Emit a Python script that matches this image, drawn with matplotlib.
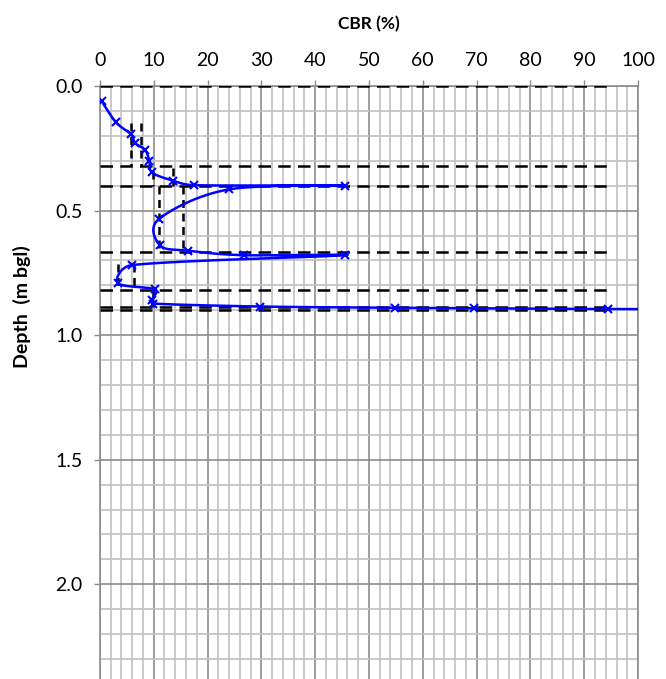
import numpy as np
import matplotlib.pyplot as plt
from matplotlib.ticker import MultipleLocator, FormatStrFormatter

plt.rcParams['font.family'] = ['Lato', 'DejaVu Sans']

# DCP readings, in test order (CBR %, depth m bgl)
cbr = [0.3, 3.0, 5.8, 6.5, 8.4, 9.2, 9.7, 13.6, 17.5, 45.6, 23.9, 10.9, 11.2,
       16.4, 26.7, 45.6, 5.9, 3.4, 10.2, 9.7, 9.9, 29.8, 54.9, 69.5, 94.4, 120.0]
depth = [0.06, 0.146, 0.194, 0.228, 0.257, 0.300, 0.347, 0.380, 0.398, 0.400,
         0.415, 0.535, 0.640, 0.661, 0.679, 0.679, 0.719, 0.792, 0.816, 0.857,
         0.873, 0.885, 0.890, 0.892, 0.895, 0.897]

# layer boundaries (dashed, drawn 0-95 % CBR)
layer_depths = [0.0, 0.32, 0.40, 0.665, 0.82, 0.885, 0.90]
layer_x_end = 95

# design CBR per layer: (cbr, top, bottom)
layer_cbr = [(5.7, 0.147, 0.32), (7.6, 0.147, 0.32),
             (9.9, 0.34, 0.40), (13.6, 0.33, 0.40),
             (10.9, 0.40, 0.665), (15.4, 0.40, 0.665),
             (3.4, 0.715, 0.82), (6.3, 0.715, 0.82),
             (9.8, 0.82, 0.885)]


def smooth(xs, ys, sx=5.37, sy=249.0, n=30):
    # excel-ish smoothed line: catmull-rom bezier, handles clamped to half the segment
    p = np.column_stack([np.array(xs) * sx, np.array(ys) * sy])
    m = len(p)
    cout, cin = [], []
    for i in range(m):
        a = p[max(i - 1, 0)]
        b = p[min(i + 1, m - 1)]
        d = (b - a) / 6
        L = np.linalg.norm(d)
        lin = np.linalg.norm(p[i] - a)
        lout = np.linalg.norm(b - p[i])
        ko = min(1.0, 0.5 * lout / L) if L > 0 else 0
        ki = min(1.0, 0.5 * lin / L) if L > 0 else 0
        cout.append(p[i] + d * ko)
        cin.append(p[i] - d * ki)
    t = np.linspace(0, 1, n)[:, None]
    out = []
    for i in range(m - 1):
        p0, p1, p2, p3 = p[i], cout[i], cin[i + 1], p[i + 1]
        seg = (1 - t) ** 3 * p0 + 3 * (1 - t) ** 2 * t * p1 + 3 * (1 - t) * t ** 2 * p2 + t ** 3 * p3
        out.append(seg)
    out = np.vstack(out)
    return out[:, 0] / sx, out[:, 1] / sy


fig = plt.figure(figsize=(6.66, 6.79), dpi=100)
ax = fig.add_axes([0.150, 0.0, 0.808, 0.8733])

for d in layer_depths:
    ax.plot([0, layer_x_end], [d, d], color='black', lw=1.8, ls=(0, (5, 2.9)), zorder=3)
for x, top, bot in layer_cbr:
    ax.plot([x, x], [top, bot], color='black', lw=1.8, ls=(0, (3.2, 2.2)), zorder=3)

sx, sy = smooth(cbr, depth)
ax.plot(sx, sy, color='#0000ff', lw=1.8, zorder=4)
ax.plot(cbr, depth, ls='none', marker='x', ms=6, mew=1.5, color='#0000ff', zorder=5)

ax.set_xlim(0, 100)
ax.set_ylim(2.38, 0)
ax.xaxis.tick_top()
ax.xaxis.set_major_locator(MultipleLocator(10))
ax.xaxis.set_minor_locator(MultipleLocator(2))
ax.yaxis.set_major_locator(MultipleLocator(0.5))
ax.yaxis.set_minor_locator(MultipleLocator(0.1))
ax.yaxis.set_major_formatter(FormatStrFormatter('%.1f'))

ax.grid(which='major', color='#8c8c8c', lw=1.2, zorder=0)
ax.grid(which='minor', color='#c0c0c0', lw=1.2, zorder=0)
ax.set_axisbelow(True)

ax.tick_params(which='major', direction='out', length=4.5, width=1, color='#8c8c8c',
               labelsize=14, pad=8)
ax.tick_params(which='minor', length=0)

for s in ['left', 'top', 'right']:
    ax.spines[s].set_color('#8c8c8c')
    ax.spines[s].set_linewidth(1.2)
ax.spines['bottom'].set_visible(False)

fig.text(0.554, 0.965, 'CBR (%)', ha='center', va='center', fontsize=12.5, fontweight='bold')
fig.text(0.033, 0.548, 'Depth  (m bgl)', ha='center', va='center', rotation=90,
         fontsize=14, fontweight='bold')

fig.savefig('out.png', dpi=100)
